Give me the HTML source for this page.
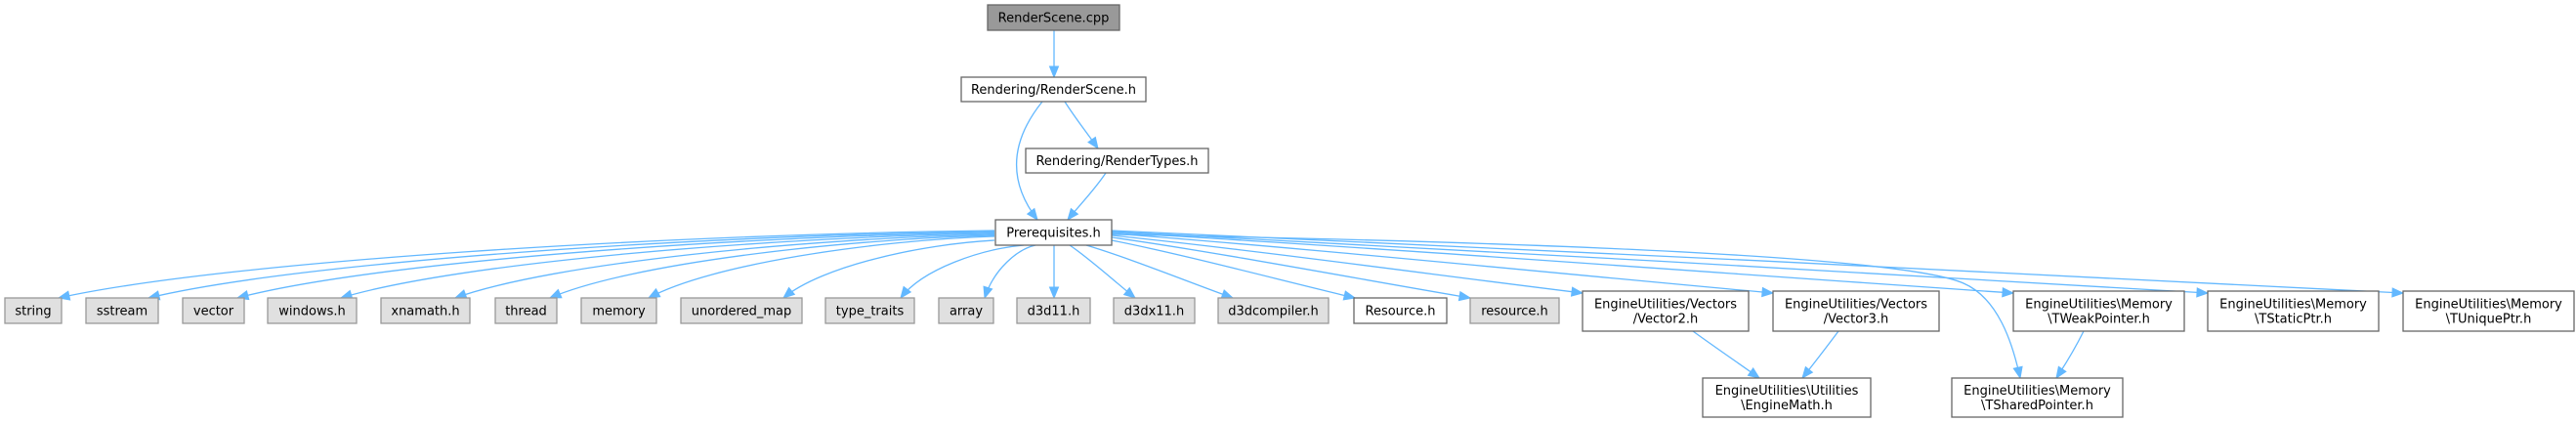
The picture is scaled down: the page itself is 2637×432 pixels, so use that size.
<!DOCTYPE html>
<html><head><meta charset="utf-8"><style>
html,body{margin:0;padding:0;background:#fff;}
svg{display:block}
text{font-family:"DejaVu Sans","Liberation Sans",sans-serif;font-size:13px;fill:#000;}
</style></head><body>
<svg id="s" width="2637" height="432" xmlns="http://www.w3.org/2000/svg"></svg>
<script>
const S=document.getElementById('s');let h='';
const C='#63b8ff';
function box(x1,y1,x2,y2,lines,type){
  const fill=type=='root'?'#999999':type=='g'?'#e0e0e0':'#ffffff';
  const st=type=='g'?'#999999':'#666666';
  h+=`<rect x="${x1}" y="${y1}" width="${x2-x1}" height="${y2-y1}" fill="${fill}" stroke="${st}" stroke-width="1.3"/>`;
  const cx=(x1+x2)/2,cy=(y1+y2)/2;
  if(lines.length==1)h+=`<text x="${cx}" y="${cy+4.5}" text-anchor="middle">${lines[0]}</text>`;
  else{h+=`<text x="${cx}" y="${cy-3}" text-anchor="middle">${lines[0]}</text><text x="${cx}" y="${cy+12}" text-anchor="middle">${lines[1]}</text>`;}
}
function arrow(d,ex,ey,px,py){
  h+=`<path d="${d}" fill="none" stroke="${C}" stroke-width="1.3"/>`;
  let dx=ex-px,dy=ey-py,l=Math.hypot(dx,dy);dx/=l;dy/=l;
  const L=11,W=4.5;const bx=ex-dx*L,by=ey-dy*L;
  h+=`<polygon points="${ex},${ey} ${bx-dy*W},${by+dx*W} ${bx+dy*W},${by-dx*W}" fill="${C}" stroke="${C}"/>`;
}
function curve(sx,sy,c1x,c1y,c2x,c2y,ex,ey){arrow(`M${sx},${sy} C${c1x},${c1y} ${c2x},${c2y} ${ex},${ey}`,ex,ey,c2x,c2y);}
curve(1079,31,1079,50,1079,60,1079,79);
curve(1067,104,1030,150,1035,190,1062,225);
curve(1090,104,1100,120,1112,135,1124,152);
curve(1132,177,1120,195,1105,210,1093,225);
const L=[[60,1018,236],[152,1018,237],[243,1018,238],[349,1018,239],[466,1018,240],[563,1018,241],[664,1018,242],[802,1018,246],[922,1048,251],[1008,1060,251]];
L.forEach(([tx,sx,sy])=>{const ty=305;const f=(sx-tx);
  curve(sx,sy,sx-f*0.35,sy+4,tx+f*0.18,ty-(ty-sy)*0.55,tx,ty);});
curve(1079,251,1079,270,1079,290,1079,305);
const R=[[1162,305,1095,251],[1262,305,1112,251],[1387,305,1138,246],[1505,305,1138,243],[1620,300,1138,241],[1815,300,1138,239],[2061,300,1138,238],[2260,300,1138,237],[2460,300,1138,236]];
R.forEach(([tx,ty,sx,sy])=>{curve(sx,sy,sx+(tx-sx)*0.3,sy+(ty-sy)*0.25,tx-(tx-sx)*0.3,ty-(ty-sy)*0.3,tx,ty);});
arrow('M1138,240 C1700,250 1960,268 2010,290 C2045,305 2060,350 2068,387',2068,387,2060,350);
curve(1733,339,1755,355,1780,372,1801,387);
curve(1882,339,1870,355,1857,372,1845,387);
curve(2133,339,2125,355,2115,372,2105,387);
box(1011,5,1146,31,['RenderScene.cpp'],'root');
box(984,79,1173,104,['Rendering/RenderScene.h'],'w');
box(1050,152,1237,177,['Rendering/RenderTypes.h'],'w');
box(1019,225,1138,251,['Prerequisites.h'],'w');
const B=[[5,63,'string'],[88,162,'sstream'],[187,250,'vector'],[274,365,'windows.h'],[390,481,'xnamath.h'],[507,570,'thread'],[595,672,'memory'],[697,821,'unordered_map'],[845,936,'type_traits'],[961,1017,'array'],[1041,1116,'d3d11.h'],[1140,1223,'d3dx11.h'],[1247,1360,'d3dcompiler.h'],[1386,1481,'Resource.h','w'],[1505,1596,'resource.h']];
B.forEach(b=>box(b[0],305,b[1],331,[b[2]],b[3]||'g'));
box(1620,298,1790,339,['EngineUtilities/Vectors','/Vector2.h'],'w');
box(1815,298,1985,339,['EngineUtilities/Vectors','/Vector3.h'],'w');
box(2061,298,2236,339,['EngineUtilities\\Memory','\\TWeakPointer.h'],'w');
box(2260,298,2435,339,['EngineUtilities\\Memory','\\TStaticPtr.h'],'w');
box(2460,298,2635,339,['EngineUtilities\\Memory','\\TUniquePtr.h'],'w');
box(1743,387,1915,427,['EngineUtilities\\Utilities','\\EngineMath.h'],'w');
box(1998,387,2173,427,['EngineUtilities\\Memory','\\TSharedPointer.h'],'w');
S.innerHTML=h;
</script>
</body></html>
